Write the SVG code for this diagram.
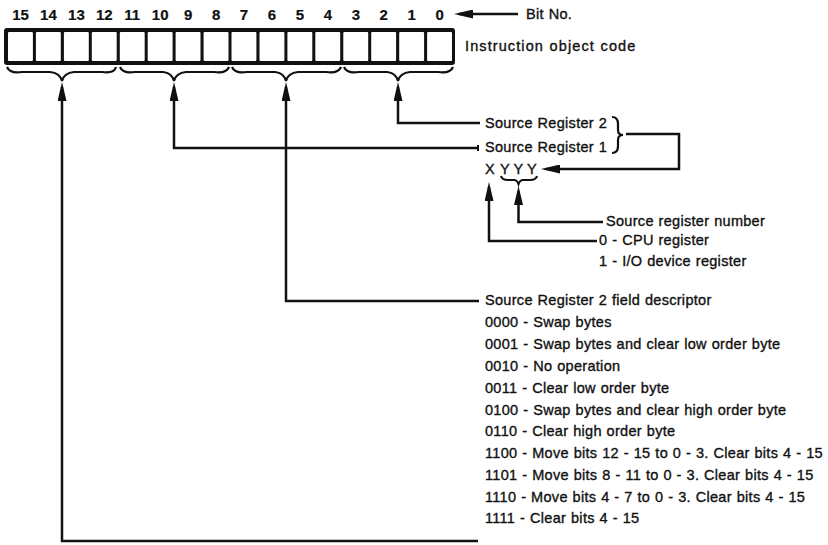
<svg xmlns="http://www.w3.org/2000/svg" width="828" height="545" viewBox="0 0 828 545">
<defs>
<style>
text{font-family:"Liberation Sans",Arial,sans-serif;font-size:14.5px;letter-spacing:0.3px;word-spacing:0.5px;fill:#111;stroke:#111;stroke-width:0.35}
.bit{text-anchor:middle;font-size:15px;font-weight:bold;letter-spacing:0;stroke-width:0.2}
.ln{fill:none;stroke:#111;stroke-width:2.5}
.br{fill:none;stroke:#111;stroke-width:2.2}
.cell{fill:#fff}
</style>
<marker id="ah" viewBox="0 0 19 9" refX="14" refY="4.5" markerWidth="19" markerHeight="9" markerUnits="userSpaceOnUse" orient="auto-start-reverse">
<path d="M0,0 L19,4.5 L0,9 z" fill="#111"/>
</marker>
</defs>
<rect width="828" height="545" fill="#fff"/>

<g id="bit-numbers">
<text class="bit" x="20.5" y="20">15</text>
<text class="bit" x="48.4" y="20">14</text>
<text class="bit" x="76.4" y="20">13</text>
<text class="bit" x="104.3" y="20">12</text>
<text class="bit" x="132.3" y="20">11</text>
<text class="bit" x="160.2" y="20">10</text>
<text class="bit" x="188.1" y="20">9</text>
<text class="bit" x="216.1" y="20">8</text>
<text class="bit" x="244" y="20">7</text>
<text class="bit" x="272" y="20">6</text>
<text class="bit" x="299.9" y="20">5</text>
<text class="bit" x="327.8" y="20">4</text>
<text class="bit" x="355.8" y="20">3</text>
<text class="bit" x="383.7" y="20">2</text>
<text class="bit" x="411.7" y="20">1</text>
<text class="bit" x="439.6" y="20">0</text>
</g>

<g id="bit-no-label">
<text x="526" y="19">Bit No.</text>
</g>

<g id="register">
<rect x="4" y="28" width="451" height="37" rx="3" fill="#111"/>
<rect class="cell" x="8" y="32" width="24.9" height="29" rx="1"/>
<rect class="cell" x="35.9" y="32" width="24.9" height="29" rx="1"/>
<rect class="cell" x="63.9" y="32" width="24.9" height="29" rx="1"/>
<rect class="cell" x="91.8" y="32" width="24.9" height="29" rx="1"/>
<rect class="cell" x="119.8" y="32" width="24.9" height="29" rx="1"/>
<rect class="cell" x="147.7" y="32" width="24.9" height="29" rx="1"/>
<rect class="cell" x="175.6" y="32" width="24.9" height="29" rx="1"/>
<rect class="cell" x="203.6" y="32" width="24.9" height="29" rx="1"/>
<rect class="cell" x="231.5" y="32" width="24.9" height="29" rx="1"/>
<rect class="cell" x="259.5" y="32" width="24.9" height="29" rx="1"/>
<rect class="cell" x="287.4" y="32" width="24.9" height="29" rx="1"/>
<rect class="cell" x="315.3" y="32" width="24.9" height="29" rx="1"/>
<rect class="cell" x="343.3" y="32" width="24.9" height="29" rx="1"/>
<rect class="cell" x="371.2" y="32" width="24.9" height="29" rx="1"/>
<rect class="cell" x="399.2" y="32" width="24.9" height="29" rx="1"/>
<rect class="cell" x="427.1" y="32" width="24.9" height="29" rx="1"/>
<text x="465" y="51" style="letter-spacing:1.1px">Instruction object code</text>
</g>

<g id="braces">
<path class="br" d="M7,67 Q10,74 22,72 L50,72 Q60,73 62,81 Q64,73 74,72 L102,72 Q114,74 116,67"/>
<path class="br" d="M120,67 Q123,74 135,72 L163,72 Q172,73 174,81 Q176,73 186,72 L214,72 Q226,74 229,67"/>
<path class="br" d="M232,67 Q235,74 247,72 L275,72 Q284,73 286,81 Q288,73 298,72 L326,72 Q338,74 341,67"/>
<path class="br" d="M344,67 Q347,74 359,72 L387,72 Q396,73 398,81 Q400,73 410,72 L438,72 Q450,74 453,67"/>
</g>

<g id="source-register-2">
<text x="485" y="128">Source Register 2</text>
</g>
<g id="source-register-1">
<text x="485" y="152">Source Register 1</text>
</g>
<g id="reg-brace">
<path class="br" d="M612,117 Q618,117 618,124 L618,130 Q618,135 623,135 Q618,135 618,140 L618,146 Q618,153 612,153"/>
</g>

<g id="xyyy">
<text x="485" y="174" style="letter-spacing:0">X</text>
<text x="500" y="174" style="letter-spacing:0">Y</text>
<text x="513.5" y="174" style="letter-spacing:0">Y</text>
<text x="527" y="174" style="letter-spacing:0">Y</text>
<path class="br" d="M501,176 Q502,180 508,180 L514,180 Q517,180 518.5,184 Q520,180 523,180 L530,180 Q536,180 537,176"/>
</g>

<g id="source-register-number">
<text x="606" y="226">Source register number</text>
</g>
<g id="cpu-io">
<text x="599" y="245">0 - CPU register</text>
<text x="599" y="266">1 - I/O device register</text>
</g>

<g id="field-descriptor">
<text x="485" y="305">Source Register 2 field descriptor</text>
<text x="485" y="327">0000 - Swap bytes</text>
<text x="485" y="349">0001 - Swap bytes and clear low order byte</text>
<text x="485" y="371">0010 - No operation</text>
<text x="485" y="393">0011 - Clear low order byte</text>
<text x="485" y="415">0100 - Swap bytes and clear high order byte</text>
<text x="485" y="436">0110 - Clear high order byte</text>
<text x="485" y="458">1100 - Move bits 12 - 15 to 0 - 3. Clear bits 4 - 15</text>
<text x="485" y="480">1101 - Move bits 8 - 11 to 0 - 3. Clear bits 4 - 15</text>
<text x="485" y="502">1110 - Move bits 4 - 7 to 0 - 3. Clear bits 4 - 15</text>
<text x="485" y="523">1111 - Clear bits 4 - 15</text>
</g>

<g id="connectors">
<path class="ln" d="M518,14 L459,14" marker-end="url(#ah)"/>
<path class="ln" d="M62,87 L62,541 L478,541" marker-start="url(#ah)"/>
<path class="ln" d="M174,87 L174,148 L478,148" marker-start="url(#ah)"/>
<path class="ln" d="M478,145 L478,151" style="stroke-width:2"/>
<path class="ln" d="M286,87 L286,301 L479,301" marker-start="url(#ah)"/>
<path class="ln" d="M398,87 L398,123 L480,123" marker-start="url(#ah)"/>
<path class="ln" d="M626,134 L679,134 L679,169 L546,169" marker-end="url(#ah)"/>
<path class="ln" d="M489,187 L489,241 L597,241" marker-start="url(#ah)"/>
<path class="ln" d="M518.5,191 L518.5,222 L603,222" marker-start="url(#ah)"/>
</g>
</svg>
